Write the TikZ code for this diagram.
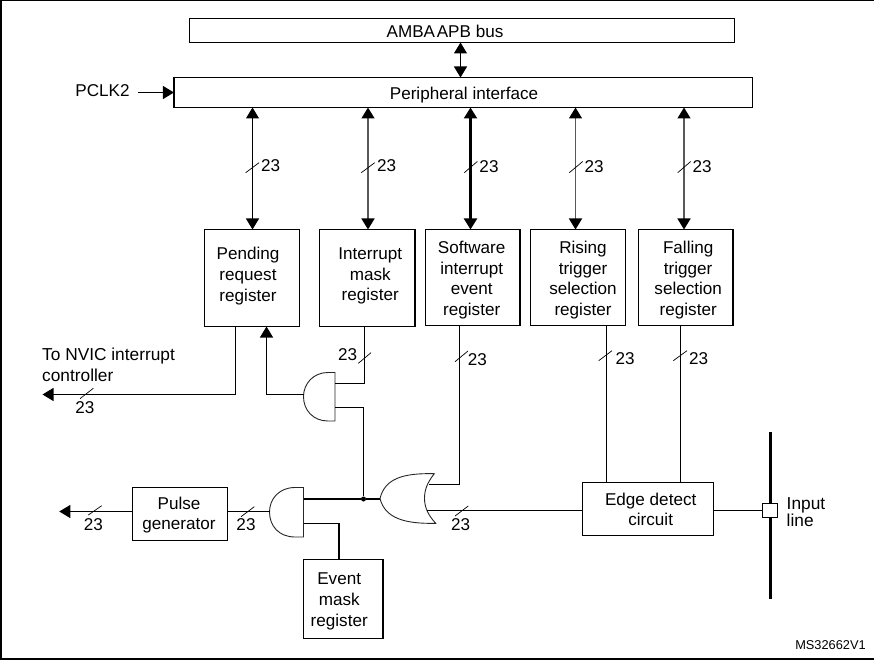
\documentclass[tikz,border=0pt]{standalone}
\usepackage{xcolor}
\usepackage{fontspec}
\setmainfont{Liberation Sans}
\usetikzlibrary{calc}
\usetikzlibrary{arrows.meta}
\tikzset{
	regbox/.style={rectangle, draw=black, line width=1.4pt, inner sep=0pt, outer sep=0pt},
	boxtext/.style={align=center, inner sep=0pt, yshift=-1.5pt, font=\fontsize{17.1}{20.7}\selectfont},
	sidetext/.style={align=left, inner sep=0pt, font=\fontsize{17.3}{20.7}\selectfont},
	buslabel/.style={inner sep=0pt, yshift=-1pt, font=\fontsize{17.1}{17}\selectfont},
	busslash/.style={line width=0.7pt},
	wire/.style={line width=1.1pt},
	greywire/.style={line width=1.6pt, draw=black!65},
	gate/.style={line width=0.9pt, draw=black!85}
}

\begin{document}
\begin{tikzpicture}[>={Triangle[length=11pt,width=13pt,color=black]}, x=1pt, y=-1pt]
	\useasboundingbox (0,0) rectangle (874,660);
	%frame
	\draw [line width=1pt] (1,0.5) -- (874,0.5);
	\draw [line width=2pt] (1,0) -- (1,660);
	\draw [line width=2pt] (0,659) -- (874,659);

	%bus boxes
	\node at (462,30.5) (ambabox) [regbox, line width=1.1pt, minimum width=545pt, minimum height=24pt] {};
	\node at (445,29.5) (ambatext) [boxtext] {AMBA\hspace{0.1em}APB bus};
	\node at (463.2,92.5) (periphbox) [regbox, line width=1.1pt, minimum width=578.5pt, minimum height=30pt] {};
	\node at ($(periphbox.center) + (0.8,1.5)$) (periphtext) [boxtext] {Peripheral interface};
	\node at (102.5,89) (pclktext) [boxtext] {PCLK2};
	\coordinate (pclkstart) at (138,92.5);

	%registers
	\node at (252,278) (pendingbox) [regbox, minimum width=95pt, minimum height=97pt] {};
	\node at ($(pendingbox.center) + (-4,-3.5)$) (pendingtext) [boxtext] {Pending\\request\\register};
	\node at (367.2,278) (maskbox) [regbox, line width=1.7pt, minimum width=95.5pt, minimum height=97pt] {};
	\node at ($(maskbox.center) + (3,-3.5)$) (masktext) [boxtext] {Interrupt\\mask\\register};
	\node at (472.7,277.5) (softwarebox) [regbox, line width=1.7pt, minimum width=94.5pt, minimum height=96pt] {};
	\node at ($(softwarebox.center) + (-1,1)$) (softwaretext) [boxtext] {Software\\interrupt\\event\\register};
	\node at (578,277.5) (risingbox) [regbox, minimum width=95pt, minimum height=96pt] {};
	\node at ($(risingbox.center) + (5,1)$) (risingtext) [boxtext] {Rising\\trigger\\selection\\register};
	\node at (685.7,277.5) (fallingbox) [regbox, line width=1.7pt, minimum width=94.5pt, minimum height=96pt] {};
	\node at ($(fallingbox.center) + (2.5,1)$) (fallingtext) [boxtext] {Falling\\trigger\\selection\\register};

	%lower boxes
	\node at (180,514) (pulsebox) [regbox, line width=1.1pt, minimum width=95pt, minimum height=53pt] {};
	\node at ($(pulsebox.center) + (-1,-0.3)$) (pulsetext) [boxtext] {Pulse\\generator};
	\node at (343.2,599) (eventbox) [regbox, minimum width=79.5pt, minimum height=79pt] {};
	\node at ($(eventbox.center) + (-4,0.8)$) (eventtext) [boxtext] {Event\\mask\\register};
	\node at (648,509) (edgebox) [regbox, line width=1.1pt, minimum width=131pt, minimum height=53pt] {};
	\node at ($(edgebox.center) + (2.7,-1)$) (edgetext) [boxtext] {Edge detect\\circuit};

	%input line
	\draw [line width=3pt] (770.5,432) -- (770.5,599);
	\node at (770,510.5) (pinbox) [regbox, fill=white, line width=1.1pt, minimum width=14.5pt, minimum height=14.5pt] {};
	\node at (786.5,512.5) (inputtext) [sidetext, anchor=west] {Input\\[-3.7pt]line};
	\node at (830.5,645) (idtext) [inner sep=0pt, font=\fontsize{12.8}{15}\selectfont] {MS32662V1};
	\node at (42,364.5) (nvictext) [sidetext, anchor=west] {To NVIC interrupt\\controller};

	%and gate next to the pending register
	\draw [gate] (335,372.5) -- (328,372.5) .. controls (313,372.5) and (303.5,384) .. (303.5,396.6) .. controls (303.5,410) and (313,421) .. (328,421) -- (335,421) -- cycle;
	\coordinate (andtopa) at (335,383.5);
	\coordinate (andtopb) at (335,407.5);
	\coordinate (andtopout) at (303.6,394.5);
	%and gate next to the pulse generator
	\draw [gate] (303.5,487.5) -- (295,487.5) .. controls (279,487.5) and (269.5,499) .. (269.5,512) .. controls (269.5,526) and (279,537) .. (295,537) -- (303.5,537) -- cycle;
	\coordinate (andlowa) at (303.5,499);
	\coordinate (andlowb) at (303.5,523.5);
	\coordinate (andlowout) at (269.6,511.5);
	%or gate
	\draw [gate] (380,498.5) .. controls (385,478) and (404,473) .. (434.3,473.7) .. controls (427,483) and (424.5,490) .. (424.5,498.5) .. controls (424.5,507) and (428,515) .. (435.7,523.3) .. controls (404,524) and (385,518) .. (380,498.5) -- cycle;
	\coordinate (orin) at (380,499);
	\coordinate (orouta) at (428.5,484.5);
	\coordinate (oroutb) at (426.5,510.5);

	%peripheral interface connections
	\coordinate (ambalink) at ($(ambabox.south) + (-1.5,0)$);
	\coordinate (pendinglink) at ($(pendingbox.north) + (0.5,0)$);
	\coordinate (masklink) at ($(maskbox.north) + (0.8,0)$);
	\coordinate (softwarelink) at ($(softwarebox.north) + (-2.2,0)$);
	\coordinate (risinglink) at ($(risingbox.north) + (-2.5,0)$);
	\coordinate (fallinglink) at ($(fallingbox.north) + (-1.7,0)$);
	\draw [<->, wire] (ambalink) -- (ambalink |- periphbox.north);
	\draw [->, wire] (pclkstart) -- (pclkstart -| periphbox.west);
	\draw [<->, wire] (pendinglink) -- (pendinglink |- periphbox.south);
	\draw [<->, greywire] (masklink) -- (masklink |- periphbox.south);
	\draw [<->, line width=2.2pt] (softwarelink) -- (softwarelink |- periphbox.south);
	\draw [<->, greywire] (risinglink) -- (risinglink |- periphbox.south);
	\draw [<->, greywire] (fallinglink) -- (fallinglink |- periphbox.south);

	%pending register connections
	\coordinate (nvicend) at (42.5,394.5);
	\coordinate (pendingout) at ($(pendingbox.south) + (-16.5,0)$);
	\coordinate (pendingin) at ($(pendingbox.south) + (14.5,0)$);
	\draw [->, wire] (pendingout) |- (nvicend);
	\draw [->, wire] (andtopout) -| (pendingin);

	%mask and event connections
	\coordinate (maskout) at ($(maskbox.south) + (-2.7,0)$);
	\coordinate (eventin) at ($(eventbox.north) + (-4.2,0)$);
	\node at (363.5,499) (junction) [circle, fill=black, inner sep=0pt, minimum size=5pt] {};
	\draw [wire] (maskout) |- (andtopa);
	\draw [wire] (andtopb) -| (junction);
	\draw [line width=2.4pt] (andlowa) -- (junction) -- (orin);
	\draw [wire] (andlowb) -| (eventin);
	\draw [line width=2pt] (eventin) -- ($(eventin) + (0,-36)$);

	%trigger connections
	\coordinate (softwareout) at ($(softwarebox.south) + (-13.2,0)$);
	\coordinate (risingout) at ($(risingbox.south) + (28.5,0)$);
	\coordinate (fallingout) at ($(fallingbox.south) + (-5.2,0)$);
	\draw [wire] (softwareout) |- (orouta);
	\draw [wire] (oroutb) -- (oroutb -| edgebox.west);
	\draw [wire] (risingout) -- (risingout |- edgebox.north);
	\draw [wire] (fallingout) -- (fallingout |- edgebox.north);
	\draw [wire] (edgebox.east |- pinbox.west) -- (pinbox.west);

	%pulse generator connections
	\coordinate (pulseend) at (59.3,511.5);
	\draw [wire] (andlowout) -- (andlowout -| pulsebox.east);
	\draw [->, wire] (pulseend -| pulsebox.west) -- (pulseend);

	%bus widths
	\draw [busslash] (245.7,172.7) -- (259,162.7);
	\node at (270.7,165) (buspending) [buslabel] {23};
	\draw [busslash] (361.3,172.7) -- (374.7,162.7);
	\node at (386.7,165) (busmask) [buslabel] {23};
	\draw [busslash] (464.3,172.7) -- (477.3,161.5);
	\node at (489,166) (bussoftware) [buslabel] {23};
	\draw [busslash] (569.3,172.7) -- (582.7,161.5);
	\node at (594,166) (busrising) [buslabel] {23};
	\draw [busslash] (677.7,172.7) -- (690.7,161.5);
	\node at (702,166) (busfalling) [buslabel] {23};
	\draw [busslash] (358.3,363.3) -- (371,352.7);
	\node at (347.7,354) (busand) [buslabel] {23};
	\draw [busslash] (455,361.7) -- (468,351);
	\node at (477.3,358.7) (busor) [buslabel] {23};
	\draw [busslash] (598.7,360.7) -- (612,350.7);
	\node at (625,358) (busedgea) [buslabel] {23};
	\draw [busslash] (673.3,360.7) -- (687,350.7);
	\node at (698.7,358) (busedgeb) [buslabel] {23};
	\draw [busslash] (80,398.7) -- (93.3,388.3);
	\node at (85,407) (busnvic) [buslabel] {23};
	\draw [busslash] (241,516.7) -- (254.3,506.7);
	\node at (246,524) (buspulsein) [buslabel] {23};
	\draw [busslash] (88.3,515) -- (101.7,505.7);
	\node at (93.3,523.3) (buspulseout) [buslabel] {23};
	\draw [busslash] (455,516) -- (468.3,506);
	\node at (460.7,523.3) (busedge) [buslabel] {23};
\end{tikzpicture}
\end{document}
